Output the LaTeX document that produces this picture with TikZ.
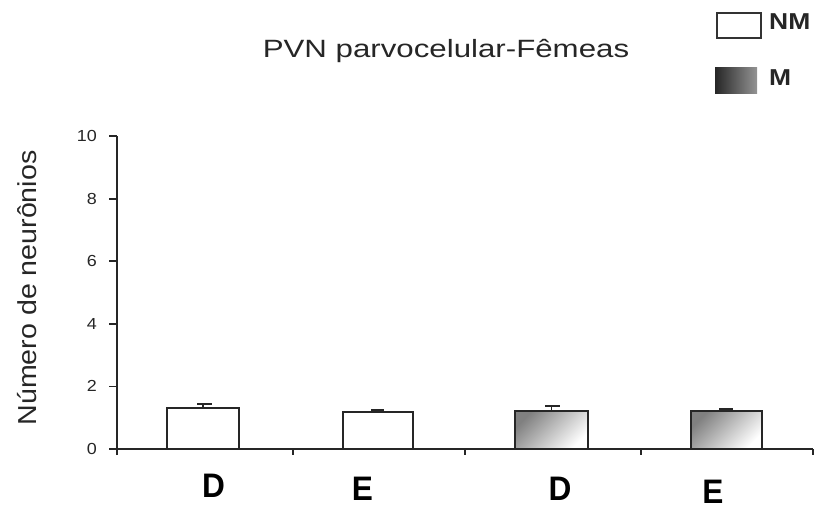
\documentclass[tikz,border=0pt]{standalone}
\usepackage{fontspec}
\setmainfont{Liberation Sans}
\usetikzlibrary{calc}
\begin{document}
\begin{tikzpicture}[x=1pt,y=-1pt,
  axisline/.style={line width=1.8pt,black!85},
  barbox/.style={line width=1.8pt,draw=black!85},
  mshade/.style={top color=black!50,bottom color=white,shading angle=45},
  errline/.style={line width=1.5pt,black!85},
  ticklbl/.style={anchor=east,font=\fontsize{16}{16}\selectfont,xscale=1.12,text=black!85,inner sep=0pt},
  catlbl/.style={font=\fontsize{34}{34}\selectfont\bfseries,xscale=0.93,inner sep=0pt},
  leglbl/.style={anchor=west,font=\fontsize{23}{23}\selectfont\bfseries,xscale=1.15,text=black!85,inner sep=0pt}]
\useasboundingbox (0,0) rectangle (815,509);
% title and axis label
\node[font=\fontsize{25}{25}\selectfont,xscale=1.25,text=black!85] (title) at (446,51) {PVN parvocelular-Fêmeas};
\node[font=\fontsize{26}{26}\selectfont,rotate=90,xscale=1.1,text=black!85] (ylab) at (27,288) {Número de neurônios};
% axes
\coordinate (yb) at (117,455);
\coordinate (yt) at (117,136);
\coordinate (xl) at (110,449);
\coordinate (xr) at (813,449);
\draw[axisline] (yb) -- (yt);
\draw[axisline] (xl) -- (xr);
\foreach \v [count=\i from 0] in {0,2,4,6,8,10} {
  \coordinate (yt\i) at (117,{449-\i*62.6});
  \draw[axisline] (yt\i) -- ++(-8,0);
  \node[ticklbl] (yl\i) at ($(yt\i)+(-20,0)$) {\v};
}
\foreach \x [count=\i] in {293,465,641,813} {
  \coordinate (xt\i) at (\x,449);
  \draw[axisline] (xt\i) -- ++(0,6);
}
% bars
\draw[barbox,fill=white] (167,449) rectangle (239,408);
\draw[barbox,fill=white] (343,449) rectangle (413,412);
\shade[mshade] (515,449) rectangle (588,411);
\draw[barbox] (515,449) rectangle (588,411);
\shade[mshade] (691,449) rectangle (762,411);
\draw[barbox] (691,449) rectangle (762,411);
% error bars
\draw[errline] (203,408) -- (203,404) (197,404) -- (212,404);
\draw[line width=2.5pt,black!85] (371,410.5) -- (384,410.5);
\draw[errline] (551.5,411) -- (551.5,406) (545,406) -- (560,406);
\draw[line width=2.2pt,black!85] (719,409.5) -- (733,409.5);
% category labels
\node[catlbl] (c1) at (213.5,486) {D};
\node[catlbl] (c2) at (362.5,488.5) {E};
\node[catlbl] (c3) at (560,488.5) {D};
\node[catlbl] (c4) at (713,491.5) {E};
% legend
\draw[line width=2.2pt,draw=black!80,fill=white] (717,13) rectangle (761,38);
\node[leglbl] (lnm) at (769,22) {NM};
\shade[left color=black!85,right color=black!42] (715,67) rectangle (757,93);
\node[leglbl] (lm) at (769,78) {M};
\end{tikzpicture}
\end{document}
